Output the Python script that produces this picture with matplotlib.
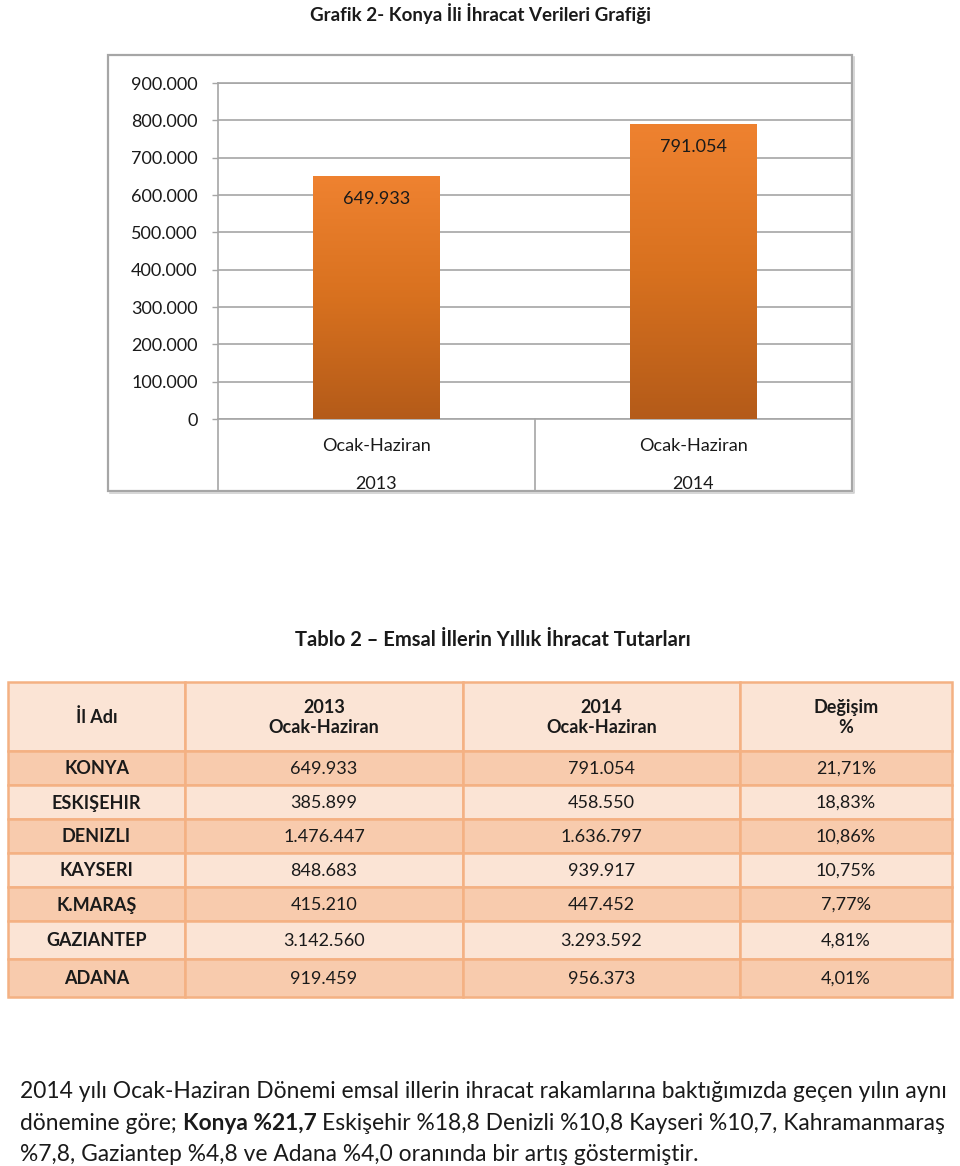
import matplotlib
matplotlib.use("Agg")
import matplotlib.pyplot as plt
import numpy as np
from matplotlib.colors import LinearSegmentedColormap
from matplotlib.patches import Rectangle
from matplotlib.transforms import blended_transform_factory

plt.rcParams['font.family'] = ['Lato', 'DejaVu Sans']

# chart data
periods = ['Ocak-Haziran', 'Ocak-Haziran']
years = ['2013', '2014']
exports = [649933, 791054]
export_labels = ['649.933', '791.054']
yticks = [0, 100000, 200000, 300000, 400000, 500000, 600000, 700000, 800000, 900000]
ytick_labels = ['0', '100.000', '200.000', '300.000', '400.000', '500.000',
                '600.000', '700.000', '800.000', '900.000']

# table data
header = ['İl Adı', '2013\nOcak-Haziran', '2014\nOcak-Haziran', 'Değişim\n%']
provinces = ['KONYA', 'ESKIŞEHIR', 'DENIZLI', 'KAYSERI', 'K.MARAŞ', 'GAZIANTEP', 'ADANA']
exp_2013 = ['649.933', '385.899', '1.476.447', '848.683', '415.210', '3.142.560', '919.459']
exp_2014 = ['791.054', '458.550', '1.636.797', '939.917', '447.452', '3.293.592', '956.373']
change = ['21,71%', '18,83%', '10,86%', '10,75%', '7,77%', '4,81%', '4,01%']

chart_title = 'Grafik 2- Konya İli İhracat Verileri Grafiği'
table_title = 'Tablo 2 – Emsal İllerin Yıllık İhracat Tutarları'
para_lines = [
    [('2014 yılı Ocak-Haziran Dönemi emsal illerin ihracat rakamlarına baktığımızda geçen yılın aynı', 'normal')],
    [('dönemine göre;', 'normal'), ('Konya %21,7', 'bold'),
     ('Eskişehir %18,8 Denizli %10,8 Kayseri %10,7, Kahramanmaraş', 'normal')],
    [('%7,8, Gaziantep %4,8 ve Adana %4,0 oranında bir artış göstermiştir.', 'normal')],
]

W, H = 960, 1166
fig = plt.figure(figsize=(W / 100, H / 100), dpi=100)
page = fig.add_axes([0, 0, 1, 1])
page.set_xlim(0, W)
page.set_ylim(H, 0)
page.axis('off')
renderer = fig.canvas.get_renderer()

TXT = '#1a1a1a'
GRID = '#a6a6a6'
FS = 13


def text_width(t):
    return t.get_window_extent(renderer).width


def fit_text(x, y, s, width, **kw):
    t = page.text(x, y, s, fontsize=12, **kw)
    t.set_fontsize(12 * width / text_width(t))
    return t


# --- chart ---
page.add_patch(Rectangle((108, 55), 744, 436, fill=False, ec=GRID, lw=1.6, zorder=1))
page.plot([854, 854, 110], [57, 493, 493], color='#d0d0d0', lw=1.2)
fit_text(480, 14, chart_title, 340, ha='center', va='center', weight='bold', color=TXT)

x0, x1, ytop, ybot = 218, 852, 83, 419
ax = fig.add_axes([x0 / W, 1 - ybot / H, (x1 - x0) / W, (ybot - ytop) / H])
x = np.arange(len(exports))
bars = ax.bar(x, exports, width=0.4, color='#d9701f', zorder=2)
cmap = LinearSegmentedColormap.from_list('bar', ['#b45b19', '#d8711f', '#ef8230'])
grad = np.linspace(0, 1, 256).reshape(-1, 1)
for b in bars:
    im = ax.imshow(grad, cmap=cmap, origin='lower', aspect='auto', zorder=3,
                   extent=(b.get_x(), b.get_x() + b.get_width(), 0, b.get_height()))
    im.set_clip_path(b)
for xi, v, lab in zip(x, exports, export_labels):
    ax.annotate(lab, (xi, v), xytext=(0, -23), textcoords='offset pixels',
                ha='center', va='center', fontsize=FS, color=TXT, zorder=4)

ax.set_xlim(-0.5, len(exports) - 0.5)
ax.set_ylim(0, 900000)
ax.set_yticks(yticks)
ax.set_yticklabels(ytick_labels)
ax.set_xticks([])
ax.tick_params(axis='y', length=4.5, width=1, color=GRID, pad=10, labelsize=FS, labelcolor=TXT)
ax.grid(axis='y', color=GRID, lw=1.2, zorder=0)
ax.set_axisbelow(True)
for side in ['left', 'bottom', 'top']:
    ax.spines[side].set_color(GRID)
    ax.spines[side].set_linewidth(1.2)
ax.spines['right'].set_visible(False)
ax.patch.set_alpha(0)

# two-level category axis
tr = blended_transform_factory(ax.transData, page.transData)
for xi, p, yr in zip(x, periods, years):
    page.text(xi, 446, p, transform=tr, ha='center', va='center', fontsize=FS, color=TXT)
    page.text(xi, 484, yr, transform=tr, ha='center', va='center', fontsize=FS, color=TXT)
for xb in [-0.5, 0.5, 1.5]:
    page.plot([xb, xb], [419, 491], transform=tr, color=GRID, lw=1.2)

# --- table ---
fit_text(493, 640, table_title, 394, ha='center', va='center', weight='bold', color=TXT)
col_edges = [8, 185, 463, 740, 952]
row_edges = [682, 751, 785, 819, 853, 887, 921, 959, 997]
light, dark, border = '#fbe4d5', '#f8cbad', '#f4b183'

rows = [header] + [list(r) for r in zip(provinces, exp_2013, exp_2014, change)]
for i, row in enumerate(rows):
    ya, yb = row_edges[i], row_edges[i + 1]
    fc = dark if i % 2 == 1 else light
    for j, val in enumerate(row):
        xa, xb = col_edges[j], col_edges[j + 1]
        page.add_patch(Rectangle((xa, ya), xb - xa, yb - ya, fc=fc, ec=border, lw=1.8))
        bold = i == 0 or j == 0
        page.text((xa + xb) / 2, (ya + yb) / 2 + 1, val, ha='center', va='center',
                  fontsize=FS, weight='bold' if bold else 'normal', color=TXT,
                  linespacing=1.2)

# --- paragraph ---
probe = page.text(0, 0, para_lines[0][0][0], fontsize=12)
para_size = 12 * 920 / text_width(probe)
probe.remove()
sp = page.text(0, 0, 'a a', fontsize=para_size)
sq = page.text(0, 0, 'aa', fontsize=para_size)
space = text_width(sp) - text_width(sq)
sp.remove()
sq.remove()
for line, yb in zip(para_lines, [1098, 1130, 1161]):
    xpos = 20
    for s, wt in line:
        t = page.text(xpos, yb, s, fontsize=para_size, weight=wt, va='baseline', color=TXT)
        xpos += text_width(t) + space

fig.savefig('out.png', dpi=100)
